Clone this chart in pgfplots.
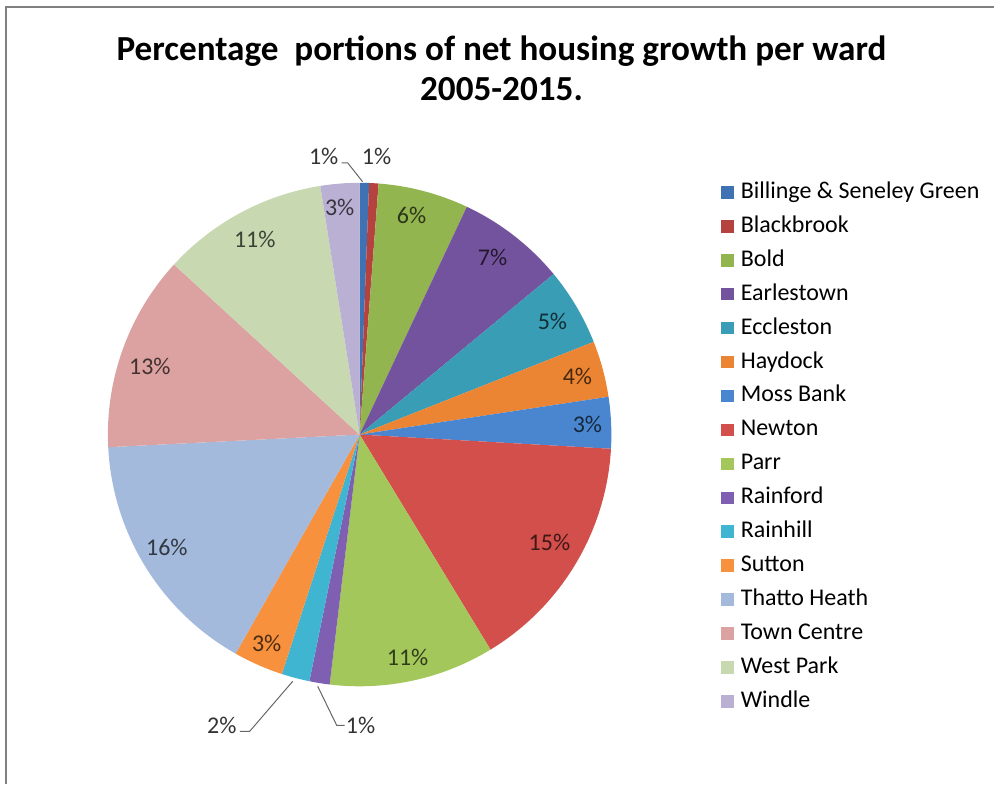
\documentclass[border=0pt]{standalone}
\usepackage{pgfplots}
\pgfplotsset{compat=1.18}
\usepackage{pgfplotstable}
\usepackage{fontspec}
\setmainfont{Carlito}

% slice colours (Excel 2010 style)
\definecolor{cBill}{HTML}{3F72B3}
\definecolor{cBlack}{HTML}{B6423F}
\definecolor{cBold}{HTML}{93B54F}
\definecolor{cEarl}{HTML}{74539E}
\definecolor{cEccl}{HTML}{3A9DB6}
\definecolor{cHayd}{HTML}{EB8533}
\definecolor{cMoss}{HTML}{4A86D0}
\definecolor{cNewt}{HTML}{D24F4B}
\definecolor{cParr}{HTML}{A3C75A}
\definecolor{cRainf}{HTML}{7F5FB2}
\definecolor{cRainh}{HTML}{3FB5D2}
\definecolor{cSutt}{HTML}{F8913D}
\definecolor{cThat}{HTML}{A4BADC}
\definecolor{cTown}{HTML}{DCA2A1}
\definecolor{cWest}{HTML}{C8D9B2}
\definecolor{cWind}{HTML}{BAB0D3}

% share in %, label position in px (origin bottom left), out=1 for labels outside the pie
\pgfplotstableread[col sep=comma]{
ward,share,col,lx,ly,out
Billinge \& Seneley Green,0.6,cBill,324,628,1
Blackbrook,0.6,cBlack,377,628,1
Bold,5.8,cBold,412,569,0
Earlestown,7.0,cEarl,493,527,0
Eccleston,5.0,cEccl,553,463,0
Haydock,3.6,cHayd,578,408,0
Moss Bank,3.3,cMoss,588,360,0
Newton,15.4,cNewt,550,242,0
Parr,10.6,cParr,408,127,0
Rainford,1.3,cRainf,361,59,1
Rainhill,1.8,cRainh,222,59,1
Sutton,3.2,cSutt,267,141,0
Thatto Heath,16.0,cThat,167,237,0
Town Centre,12.6,cTown,150,418,0
West Park,10.7,cWest,255,545,0
Windle,2.5,cWind,340,577,0
}\wards

\begin{document}
\begin{tikzpicture}[lab/.style={font=\fontsize{12}{14}\selectfont}]
\begin{axis}[
  x=0.5pt, y=0.5pt,
  xmin=0, xmax=995, ymin=0, ymax=785,
  hide axis, clip=false,
  legend cell align=left,
  legend image code/.code={\fill[#1] (0pt,-3.2pt) rectangle (6.6pt,3.2pt);},
  legend style={at={(axis cs:721,604)}, anchor=north west, draw=none, fill=none,
    inner sep=0pt, row sep=6pt, column sep=3.5pt,
    font=\fontsize{12}{14}\selectfont,
    nodes={inner sep=0pt, text height=8.5pt, text depth=2.5pt}},
]
\path (axis cs:0,0) rectangle (axis cs:995,785);
\draw[black!50, line width=1pt] (axis cs:995,778) -- (axis cs:6,778) -- (axis cs:6,0);

\node[font=\fontsize{17.6}{20}\selectfont\bfseries, anchor=base] at (axis cs:502,724)
  {Percentage\ \ portions of net housing growth per ward};
\node[font=\fontsize{17.6}{20}\selectfont\bfseries, anchor=base] at (axis cs:502,684)
  {2005-2015.};

\def\cum{0}
\pgfplotsforeachungrouped \i in {0,...,15}{%
  \pgfplotstablegetelem{\i}{share}\of\wards \let\sVal\pgfplotsretval
  \pgfplotstablegetelem{\i}{col}\of\wards \let\sCol\pgfplotsretval
  \pgfplotstablegetelem{\i}{ward}\of\wards \let\sName\pgfplotsretval
  \pgfmathsetmacro\sA{90-3.6*\cum}%
  \pgfmathsetmacro\sB{90-3.6*(\cum+\sVal)}%
  \edef\cmd{%
    \noexpand\fill[\sCol] (axis cs:360,350) -- ([shift={(\sA:126pt)}]axis cs:360,350)
      arc[start angle=\sA, end angle=\sB, radius=126pt] -- cycle;
    \noexpand\addlegendimage{fill=\sCol, draw=none}
    \noexpand\addlegendentry{\sName}%
  }\cmd
  \pgfmathsetmacro\cum{\cum+\sVal}%
}
% labels on top of all slices
\pgfplotsforeachungrouped \i in {0,...,15}{%
  \pgfplotstablegetelem{\i}{share}\of\wards \let\sVal\pgfplotsretval
  \pgfplotstablegetelem{\i}{col}\of\wards \let\sCol\pgfplotsretval
  \pgfplotstablegetelem{\i}{lx}\of\wards \let\sLx\pgfplotsretval
  \pgfplotstablegetelem{\i}{ly}\of\wards \let\sLy\pgfplotsretval
  \pgfplotstablegetelem{\i}{out}\of\wards \let\sOut\pgfplotsretval
  \pgfmathtruncatemacro\sPct{round(\sVal)}%
  \ifnum\sOut=1 \def\sTc{black!80}\else\edef\sTc{\sCol!30!black}\fi
  \edef\cmd{%
    \noexpand\node[lab, text=\sTc] at (axis cs:\sLx,\sLy) {\sPct\noexpand\%};
  }\cmd
}
% leader lines
\draw[black!60, line width=0.5pt] (axis cs:363,603) -- (axis cs:348,622) -- (axis cs:342,622);
\draw[black!60, line width=0.5pt] (axis cs:318,98) -- (axis cs:337,59) -- (axis cs:345,59);
\draw[black!60, line width=0.5pt] (axis cs:293,103) -- (axis cs:250,53) -- (axis cs:240,53);
\end{axis}
\end{tikzpicture}
\end{document}
